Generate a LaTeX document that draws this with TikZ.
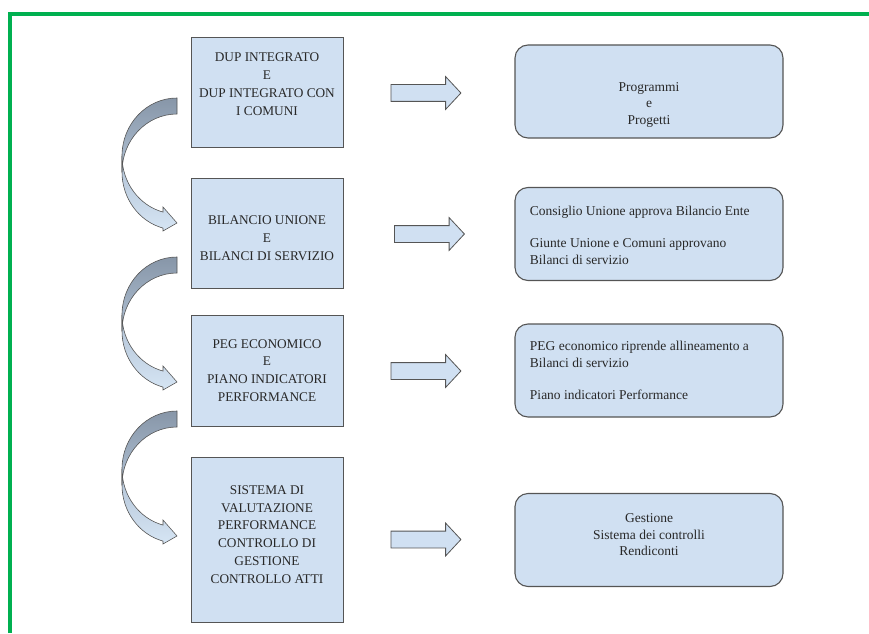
\documentclass[tikz,border=0pt]{standalone}
\usepackage{fontspec}
\setmainfont{Liberation Serif}
\usepackage{tikz}
\usetikzlibrary{arrows.meta, positioning, calc, shapes.arrows}
\definecolor{frgreen}{RGB}{0, 176, 80}
\definecolor{boxfill}{RGB}{208, 224, 242}
\definecolor{boxline}{RGB}{85, 85, 85}
\definecolor{boxtext}{RGB}{40, 40, 40}
\definecolor{bendback}{RGB}{135, 150, 168}
\definecolor{bendmid}{RGB}{176, 193, 212}
\definecolor{bendfront}{RGB}{214, 229, 244}

% curved ribbon arrow, #1 = top end of the ribbon
\newcommand{\bendarrow}[1]{%
  \path (#1) coordinate (t);
  % front part, down to the head
  \draw[boxline, line width=0.6pt, top color=bendmid, bottom color=bendfront]
    ($(t)+(-55,-58)$) arc[start angle=180, end angle=255.25, x radius=55, y radius=58]
    -- ($(t)+(-14,-109)$) -- ($(t)+(0,-125)$) -- ($(t)+(-14,-133)$)
    -- ($(t)+(-14,-130.1)$) arc[start angle=255.25, end angle=180, x radius=55, y radius=58]
    -- cycle;
  % back part, seen from below
  \draw[boxline, line width=0.6pt, top color=bendback, bottom color=bendmid]
    (t) arc[start angle=90, end angle=180, x radius=55, y radius=58]
    -- ++(0,-16) arc[start angle=180, end angle=90, x radius=55, y radius=58]
    -- cycle;
}

\tikzset{
  stagebox/.style={draw=boxline, fill=boxfill, line width=0.8pt,
    minimum width=152pt, inner sep=0pt},
  outbox/.style={draw=boxline, fill=boxfill, line width=1.1pt,
    rounded corners=13pt, minimum width=268pt, minimum height=93pt, inner sep=0pt},
  stagetext/.style={align=center, text=boxtext, font=\fontsize{13.3}{17.8}\selectfont},
  outtext/.style={align=left, text=boxtext, font=\fontsize{13.5}{16.5}\selectfont},
  fatarrow/.style={single arrow, draw=boxline, fill=boxfill, line width=0.8pt,
    minimum height=70pt, minimum width=32pt, inner sep=8pt,
    single arrow head extend=8pt, single arrow tip angle=94},
}

\begin{document}
\begin{tikzpicture}[x=1pt, y=1pt, >=Stealth]
  \useasboundingbox (0,0) rectangle (869,633);

  % --- frame ---
  \draw[frgreen, line width=4pt] (10,0) -- (10,619) -- (869,619);

  % --- stages (left column) ---
  \node[stagebox, minimum height=110pt] (b1) at (267,541) {};
  \node[stagebox, minimum height=110pt] (b2) at (267,400) {};
  \node[stagebox, minimum height=111pt] (b3) at (267,262.5) {};
  \node[stagebox, minimum height=165pt] (b4) at (267,93.5) {};

  \node[stagetext] (b1t) at ($(b1)+(0,8)$)
    {DUP INTEGRATO\\E\\DUP INTEGRATO CON\\I COMUNI};
  \node[stagetext] (b2t) at ($(b2)+(0,-5)$)
    {BILANCIO UNIONE\\E\\BILANCI DI SERVIZIO};
  \node[stagetext] (b3t) at (b3)
    {PEG ECONOMICO\\E\\PIANO INDICATORI\\PERFORMANCE};
  \node[stagetext] (b4t) at ($(b4)+(0,5)$)
    {SISTEMA DI\\VALUTAZIONE\\PERFORMANCE\\CONTROLLO DI\\GESTIONE\\CONTROLLO ATTI};

  % --- outputs (right column) ---
  \node[outbox] (r1) at (649,541.5) {};
  \node[outbox] (r2) at (649,399) {};
  \node[outbox] (r3) at (649,262.5) {};
  \node[outbox] (r4) at (649,93) {};

  \node[outtext, align=center] (r1t) at ($(r1)+(0,-13)$)
    {Programmi\\e\\Progetti};
  \node[outtext, anchor=west] (r2t) at ($(r2.west)+(12,-1)$)
    {Consiglio Unione approva Bilancio Ente\\[16pt]Giunte Unione e Comuni approvano\\Bilanci di servizio};
  \node[outtext, anchor=west] (r3t) at ($(r3.west)+(12,0)$)
    {PEG economico riprende allineamento a\\Bilanci di servizio\\[16pt]Piano indicatori Performance};
  \node[outtext, align=center] (r4t) at ($(r4)+(0,5)$)
    {Gestione\\Sistema dei controlli\\Rendiconti};

  % --- block arrows between the columns ---
  \node[fatarrow] (a1) at (422,540) {};
  \node[fatarrow] (a2) at (425.5,399) {};
  \node[fatarrow] (a3) at (422,262) {};
  \node[fatarrow] (a4) at (422,93.5) {};

  % --- curved arrows from one stage to the next ---
  \coordinate (c1) at (177,535);
  \coordinate (c2) at (177,376);
  \coordinate (c3) at (177,222);
  \bendarrow{c1}
  \bendarrow{c2}
  \bendarrow{c3}

\end{tikzpicture}
\end{document}
